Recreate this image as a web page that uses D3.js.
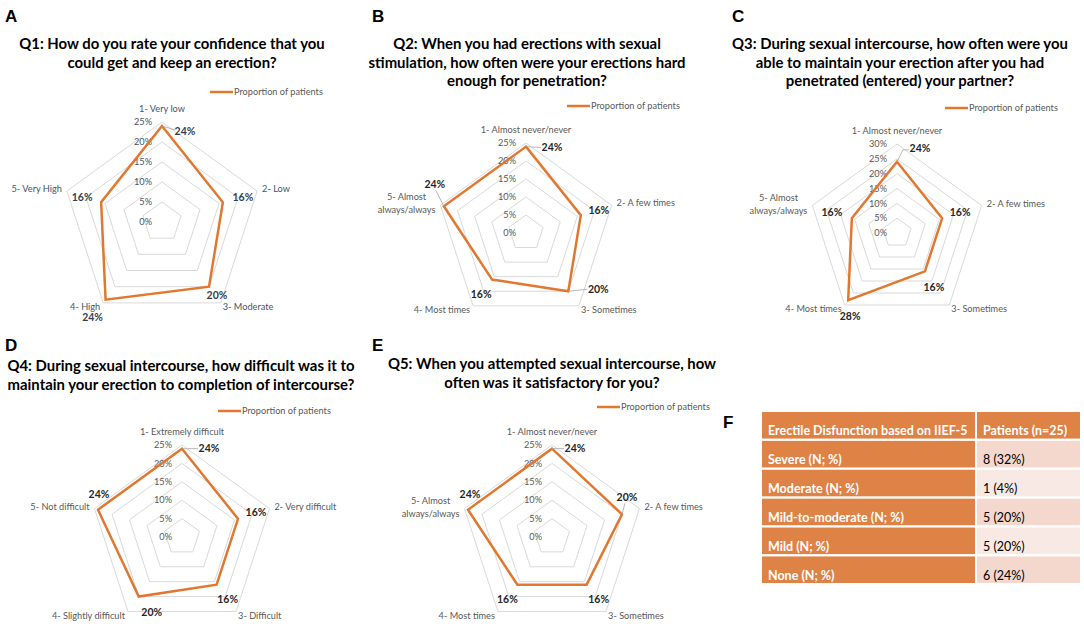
<!DOCTYPE html>
<html>
<head>
<meta charset="utf-8">
<script src="https://d3js.org/d3.v7.min.js"></script>
<style>
  body { margin: 0; background: #fff; }
  svg { display: block; font-family: Lato, "Open Sans", sans-serif; }
</style>
</head>
<body>
<svg id="chart" width="1084" height="624"></svg>
<script>
// ---- data ----
const q1Title = ["Q1: How do you rate your confidence that you", "could get and keep an erection?"];
const q1Categories = ["1- Very low", "2- Low", "3- Moderate", "4- High", "5- Very High"];
const q1Values = [24, 16, 20, 24, 16];

const q2Title = ["Q2: When you had erections with sexual", "stimulation, how often were your erections hard", "enough for penetration?"];
const q2Categories = ["1- Almost never/never", "2- A few times", "3- Sometimes", "4- Most times", "5- Almost\nalways/always"];
const q2Values = [24, 16, 20, 16, 24];

const q3Title = ["Q3: During sexual intercourse, how often were you", "able to maintain your erection after you had", "penetrated (entered) your partner?"];
const q3Categories = ["1- Almost never/never", "2- A few times", "3- Sometimes", "4- Most times", "5- Almost\nalways/always"];
const q3Values = [24, 16, 16, 28, 16];

const q4Title = ["Q4: During sexual intercourse, how difficult was it to", "maintain your erection to completion of intercourse?"];
const q4Categories = ["1- Extremely difficult", "2- Very difficult", "3- Difficult", "4- Slightly difficult", "5- Not difficult"];
const q4Values = [24, 16, 16, 20, 24];

const q5Title = ["Q5: When you attempted sexual intercourse, how", "often was it satisfactory for you?"];
const q5Categories = ["1- Almost never/never", "2- A few times", "3- Sometimes", "4- Most times", "5- Almost\nalways/always"];
const q5Values = [24, 20, 16, 16, 24];

const seriesName = "Proportion of patients";

const tableHeader = ["Erectile Disfunction based on IIEF-5", "Patients (n=25)"];
const severityLevels = ["Severe (N; %)", "Moderate (N; %)", "Mild-to-moderate (N; %)", "Mild (N; %)", "None (N; %)"];
const patientCounts = [8, 1, 5, 5, 6];
const patientPercents = [32, 4, 20, 20, 24];

// ---- layout ----
const ORANGE = "#E2772F";
const panels = [
  { letter: "A", lx: 5, ly: 22, title: q1Title, tx: 172, ty: 49, cats: q1Categories, vals: q1Values, max: 25,
    cx: 162, cy: 222, R: 100, legX: 210, legY: 92, txt: "#44546A", num: "#333F50",
    off: [[23, 5], [20, -5], [8, 9], [-13, 18], [-19, -5]], lead: { 0: [[13, 4]] } },
  { letter: "B", lx: 372, ly: 22, title: q2Title, tx: 527, ty: 49, cats: q2Categories, vals: q2Values, max: 25,
    cx: 526, cy: 233, R: 90, legX: 567, legY: 106, txt: "#595959", num: "#262626",
    off: [[26, 1], [18, -5], [30, -2], [-11, 15], [-9, -22]], lead: { 0: [[15, 1]], 2: [[19, -2]], 4: [[-8, -16]] } },
  { letter: "C", lx: 732, ly: 22, title: q3Title, tx: 900, ty: 49, cats: q3Categories, vals: q3Values, max: 30,
    cx: 897, cy: 233, R: 89, legX: 945, legY: 108, txt: "#595959", num: "#262626",
    off: [[23, -13], [18, -6], [9, 16], [2, 16], [-20, -6]], lead: { 0: [[6, -12], [12, -12]] } },
  { letter: "D", lx: 5, ly: 351, title: q4Title, tx: 181, ty: 371, cats: q4Categories, vals: q4Values, max: 25,
    cx: 182, cy: 537, R: 92, legX: 218, legY: 411, txt: "#595959", num: "#262626",
    off: [[27, 0], [18, -6], [11, 15], [13, 16], [1, -15]], lead: { 0: [[16, 0]] } },
  { letter: "E", lx: 372, ly: 351, title: q5Title, tx: 552, ty: 369, cats: q5Categories, vals: q5Values, max: 25,
    cx: 552, cy: 537, R: 92, legX: 597, legY: 407, txt: "#595959", num: "#262626",
    off: [[23, 0], [5, -17], [12, 15], [-10, 15], [2, -15]], lead: { 0: [[12, 0]], 1: [[3, -11]] } }
];

const svg = d3.select("#chart");
const pct = d3.format(".0%");

function drawRadar(p) {
  const root = svg.append("g");
  root.append("text").attr("x", p.lx).attr("y", p.ly)
    .style("font-family", "Liberation Sans, Arial, sans-serif").style("font-weight", "bold")
    .style("font-size", "17px").attr("fill", "#000").text(p.letter);

  root.selectAll("text.title").data(p.title).join("text").attr("class", "title")
    .attr("x", p.tx).attr("y", (d, i) => p.ty + i * 18.5)
    .attr("text-anchor", "middle").style("font-weight", "bold").style("font-size", "14.9px")
    .attr("fill", "#000").text(d => d);

  // legend
  root.append("line").attr("x1", p.legX).attr("x2", p.legX + 23).attr("y1", p.legY).attr("y2", p.legY)
    .attr("stroke", ORANGE).attr("stroke-width", 2.5);
  root.append("text").attr("x", p.legX + 24).attr("y", p.legY).attr("dy", "0.35em")
    .style("font-size", "9.2px").attr("fill", "#595959").text(seriesName);

  const g = root.append("g").attr("transform", `translate(${p.cx},${p.cy})`);
  const n = p.cats.length;
  const r = d3.scaleLinear().domain([0, p.max]).range([0, p.R]);
  const ang = i => i * 2 * Math.PI / n;
  const pt = (i, v) => [r(v) * Math.sin(ang(i)), -r(v) * Math.cos(ang(i))];
  const ticks = r.ticks(p.max / 5);

  g.selectAll("polygon.grid").data(ticks.filter(t => t > 0)).join("polygon").attr("class", "grid")
    .attr("points", t => d3.range(n).map(i => pt(i, t).join(",")).join(" "))
    .attr("fill", "none").attr("stroke", "#D9D9D9").attr("stroke-width", 1);

  g.selectAll("text.tick").data(ticks).join("text").attr("class", "tick")
    .attr("x", -10).attr("y", t => -r(t)).attr("dy", "0.35em").attr("text-anchor", "end")
    .style("font-size", "9.2px").attr("fill", p.txt).text(t => pct(t / 100));

  const line = d3.lineRadial().angle((d, i) => ang(i)).radius(d => r(d)).curve(d3.curveLinearClosed);
  g.append("path").attr("d", line(p.vals)).attr("fill", "none")
    .attr("stroke", ORANGE).attr("stroke-width", 2.5).attr("stroke-linejoin", "miter");

  // category labels
  p.cats.forEach((c, i) => {
    const [vx, vy] = pt(i, p.max);
    const lines = c.split("\n");
    const t = g.append("text").style("font-size", "9.2px").attr("fill", p.txt);
    let anchor = "middle", x = vx, y = vy;
    if (i === 0) { y = vy - 13; }
    else if (i === 1) { anchor = "start"; x = vx + 5; y = vy - 2; }
    else if (i === 2) { anchor = "start"; x = vx + 2; y = vy + 4; }
    else if (i === 3) { anchor = "end"; x = vx - 3; y = vy + 4; }
    else { anchor = "end"; x = vx - 5; y = vy - 2; }
    if (lines.length === 1) {
      t.attr("x", x).attr("y", y).attr("dy", "0.35em").attr("text-anchor", anchor).text(c);
    } else {
      const spans = t.selectAll("tspan").data(lines).join("tspan")
        .attr("y", (d, k) => vy - 8 + k * 13).attr("dy", "0.35em").text(d => d);
      let w = 0;
      spans.each(function () { w = Math.max(w, this.getComputedTextLength()); });
      spans.attr("x", vx - 5 - w / 2).attr("text-anchor", "middle");
    }
  });

  // leaders + data labels
  p.vals.forEach((v, i) => {
    const [vx, vy] = pt(i, v);
    if (p.lead[i]) {
      const pts = [[vx, vy]].concat(p.lead[i].map(([dx, dy]) => [vx + dx, vy + dy]));
      g.append("path").attr("d", d3.line()(pts)).attr("fill", "none")
        .attr("stroke", "#A6A6A6").attr("stroke-width", 0.8);
    }
    g.append("text").attr("x", vx + p.off[i][0]).attr("y", vy + p.off[i][1]).attr("dy", "0.35em")
      .attr("text-anchor", "middle").style("font-size", "10.5px").style("font-weight", "bold")
      .attr("fill", p.num).text(pct(v / 100));
  });
}

panels.forEach(drawRadar);

// ---- table F ----
const tf = svg.append("g");
tf.append("text").attr("x", 723).attr("y", 428)
  .style("font-family", "Liberation Sans, Arial, sans-serif").style("font-weight", "bold")
  .style("font-size", "17px").text("F");

const rowKeys = ["header"].concat(severityLevels);
const yRow = d3.scaleBand().domain(rowKeys).range([412, 583]).paddingInner(0.08);
const xCol = d3.scaleOrdinal().domain([0, 1]).range([762, 977]);
const wCol = [213, 103];
const cellFill = (row, col) => {
  if (row === 0 || col === 0) return "#DF8245";
  return row % 2 === 1 ? "#F4D7CD" : "#F9E9E4";
};
const cells = [];
rowKeys.forEach((k, row) => {
  const texts = row === 0 ? tableHeader
    : [k, `${patientCounts[row - 1]} (${patientPercents[row - 1]}%)`];
  texts.forEach((t, col) => cells.push({ k, row, col, t }));
});
tf.selectAll("rect.cell").data(cells).join("rect").attr("class", "cell")
  .attr("x", d => xCol(d.col)).attr("y", d => yRow(d.k))
  .attr("width", d => wCol[d.col]).attr("height", yRow.bandwidth())
  .attr("fill", d => cellFill(d.row, d.col));
tf.selectAll("text.cell").data(cells).join("text").attr("class", "cell")
  .attr("x", d => xCol(d.col) + 6).attr("y", d => yRow(d.k) + yRow.bandwidth() - 3.5)
  .style("font-size", "12.5px")
  .style("font-weight", d => (d.row === 0 || d.col === 0) ? "bold" : "normal")
  .attr("fill", d => (d.row === 0 || d.col === 0) ? "#fff" : "#000")
  .text(d => d.t);
</script>
</body>
</html>
